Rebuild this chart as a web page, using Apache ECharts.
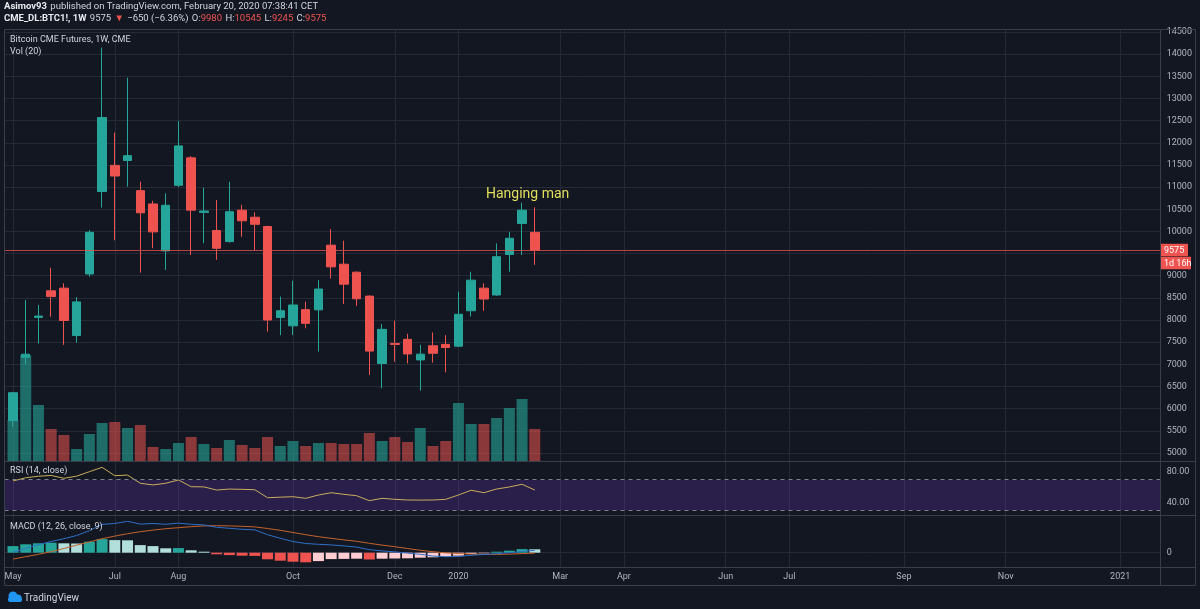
<!DOCTYPE html>
<html>
<head>
<meta charset="utf-8">
<script src="https://cdn.jsdelivr.net/npm/echarts@6.0.0/dist/echarts.min.js"></script>
<style>
html,body{margin:0;padding:0;background:#131722;overflow:hidden;}
#chart{width:1200px;height:609px;}
</style>
</head>
<body>
<div id="chart"></div>
<script>
// ================= DATA =================
const startWeek = '2019-05-06';
const weekSlots = 91;

const opens  = [5730,7160,8060,8660,8720,7650,9040,10900,11490,11600,10920,10620,9560,11040,11660,10430,10020,9770,10480,10320,10110,8060,7870,8235,8230,9690,9260,9080,8540,7020,7470,7565,7100,7420,7450,7410,8210,8720,8565,9480,10180,9980];
const closes = [6360,7230,8090,8530,7990,8410,9980,12570,11250,11710,10420,9990,10590,11930,10480,10460,9620,10445,10240,10160,8000,8210,8340,7926,8700,9200,8810,8480,7300,7790,7450,7235,7230,7250,7380,8130,8900,8475,9430,9845,10480,9575];
const highs  = [6380,8450,8340,9180,8830,8520,10030,14150,12230,13470,11120,10690,10860,12490,11700,10990,10710,11120,10600,10430,10130,8530,8890,8414,8900,10050,9790,9100,8560,7910,7985,7690,7440,7720,7660,8640,9090,8830,9730,9990,10650,10545];
const lows   = [5590,7000,7470,8075,7440,7490,8980,10540,9800,11010,9070,9620,9130,11000,9470,9730,9360,9750,9880,9580,7740,7660,7663,7813,7290,8940,8360,8320,6760,6460,7060,7020,6410,7040,6820,7400,8080,8210,8550,9090,9470,9245];
const volumes = [41000,106000,56000,32000,26000,12000,27000,38000,39000,33000,36000,14000,12000,18000,24000,17000,13000,21000,16000,13000,24000,15000,20000,15000,18000,18000,17000,17000,28000,20000,24000,19000,33000,15000,20000,58000,37000,37000,43000,53000,62000,32000];

const rsi = [68.3,72.5,74.5,75.5,71.8,74.6,80.4,86.1,75.2,76.0,65.3,63.1,65.3,69.6,60.8,60.6,56.5,57.8,57.4,56.9,46.5,47.2,47.8,45.7,50.0,53.0,50.9,49.1,42.6,45.7,44.4,43.5,43.4,43.5,44.4,50.0,56.2,53.0,57.8,60.5,64.0,56.5];

const macdLine   = [20,220,400,560,700,860,1100,1420,1460,1570,1430,1460,1420,1480,1420,1390,1270,1220,1170,1140,900,720,560,460,420,390,340,280,150,90,40,-20,-80,-170,-200,-190,-130,-90,-50,0,60,120];
const signalLine = [-320,-200,-80,50,210,380,540,700,830,950,1050,1130,1200,1250,1300,1340,1350,1340,1320,1290,1210,1120,1010,900,800,720,640,570,470,380,300,210,120,50,-10,-40,-70,-80,-85,-70,-45,-20];
const macdHist   = [330,420,470,500,470,460,550,680,630,620,380,330,220,230,120,50,-80,-120,-150,-160,-330,-400,-450,-480,-420,-320,-310,-300,-340,-300,-290,-280,-250,-230,-200,-150,-60,-30,50,100,180,170];

const tickDates  = ['2019-05-06','2019-07-01','2019-08-05','2019-10-07','2019-12-02','2020-01-06','2020-03-02','2020-04-06','2020-06-01','2020-07-06','2020-09-07','2020-11-02','2021-01-04'];
const tickLabels = ['May','Jul','Aug','Oct','Dec','2020','Mar','Apr','Jun','Jul','Sep','Nov','2021'];

const priceMin = 5000, priceMax = 14500, priceStep = 500;
const rsiTickValues = [40, 80];
const rsiBands = [30, 70];
const macdTickValues = [0];
const lastPrice = 9575;
const countdownText = '1d 16h';
const annotationText = 'Hanging man';

// ================= BUILD =================
const WEEK = 7 * 864e5;
const weekIndex = d => Math.round((Date.parse(d) - Date.parse(startWeek)) / WEEK);
const tickIdx = tickDates.map(weekIndex);
const labelByIdx = {};
tickIdx.forEach((k, j) => { labelByIdx[k] = tickLabels[j]; });

const UP = '#26a69a', DOWN = '#ef5350';
const candleData = opens.map((o, i) => [i, o, closes[i], lows[i], highs[i]]);
const volData = volumes.map((v, i) => ({
  value: [i, v],
  itemStyle: { color: closes[i] >= opens[i] ? 'rgba(38,166,154,0.6)' : 'rgba(239,83,80,0.55)' }
}));
const rsiData = rsi.map((v, i) => [i, v]);
const macdData = macdLine.map((v, i) => [i, v]);
const sigData = signalLine.map((v, i) => [i, v]);
const histData = macdHist.map((v, i) => {
  const prev = i > 0 ? macdHist[i - 1] : (v >= 0 ? -Infinity : Infinity);
  let c;
  if (v >= 0) c = v >= prev ? '#26a69a' : '#b2dfdb';
  else c = v <= prev ? '#ef5350' : '#ffcdd2';
  return { value: [i, v], itemStyle: { color: c } };
});

const FONT = 'Roboto, "Noto Sans", sans-serif';
const GRID_C = '#262a36';
const BORDER_C = '#3a3e4a';
const LABEL_C = '#b2b5be';
const X_MIN = -0.668, X_MAX = 90.18;
const PL = 4.5, PW = 1156.2;

function mkX(gridIndex, extra) {
  return Object.assign({
    type: 'value', gridIndex, min: X_MIN, max: X_MAX,
    axisLine: { show: false },
    axisTick: { show: false, customValues: tickIdx },
    axisLabel: { show: false, customValues: tickIdx },
    splitLine: { show: true, lineStyle: { color: GRID_C, width: 1 } }
  }, extra || {});
}

const option = {
  animation: false,
  backgroundColor: '#131722',
  textStyle: { fontFamily: FONT },
  grid: [
    { left: PL, top: 32, width: PW, height: 421 },   // price
    { left: PL, top: 29, width: PW, height: 432 },   // volume
    { left: PL, top: 461, width: PW, height: 54 },   // rsi
    { left: PL, top: 515, width: PW, height: 52 }    // macd
  ],
  xAxis: [
    mkX(0, { splitLine: { show: false } }),
    mkX(1),
    mkX(2),
    mkX(3, {
      axisLabel: {
        show: true, customValues: tickIdx, color: LABEL_C, fontSize: 9, margin: 5, fontFamily: FONT,
        formatter: v => labelByIdx[Math.round(v)] || ''
      }
    })
  ],
  yAxis: [
    {
      type: 'value', gridIndex: 0, position: 'right', min: priceMin, max: priceMax, interval: priceStep,
      axisLine: { show: false }, axisTick: { show: false },
      axisLabel: { color: LABEL_C, fontSize: 9, margin: 6, fontFamily: FONT, formatter: v => String(v) },
      splitLine: { show: true, lineStyle: { color: GRID_C } }
    },
    {
      type: 'value', gridIndex: 1, min: 0, max: 432000, show: false, splitLine: { show: false }
    },
    {
      type: 'value', gridIndex: 2, position: 'right', min: 23.97, max: 94.33,
      axisLine: { show: false },
      axisTick: { show: false, customValues: rsiTickValues },
      axisLabel: { customValues: rsiTickValues, color: LABEL_C, fontSize: 9, margin: 6, fontFamily: FONT, formatter: v => v.toFixed(2) },
      splitLine: { show: false }
    },
    {
      type: 'value', gridIndex: 3, position: 'right', min: -715, max: 1885,
      axisLine: { show: false },
      axisTick: { show: false, customValues: macdTickValues },
      axisLabel: { customValues: macdTickValues, color: LABEL_C, fontSize: 9, margin: 6, fontFamily: FONT, formatter: v => String(v) },
      splitLine: { show: true, lineStyle: { color: GRID_C } }
    }
  ],
  series: [
    {
      name: 'Volume', type: 'bar', xAxisIndex: 1, yAxisIndex: 1, data: volData, barWidth: 11, silent: true
    },
    {
      name: 'BTC1!', type: 'candlestick', xAxisIndex: 0, yAxisIndex: 0, data: candleData,
      encode: { x: 0, y: [1, 2, 3, 4] }, barWidth: 9,
      itemStyle: { color: UP, color0: DOWN, borderColor: UP, borderColor0: DOWN, borderWidth: 1 },
      markLine: {
        silent: true, symbol: ['none', 'none'], label: { show: false },
        lineStyle: { color: '#ef5350', width: 1, type: 'solid', opacity: 0.75 },
        data: [{ yAxis: lastPrice }]
      }
    },
    {
      name: 'RSI', type: 'line', xAxisIndex: 2, yAxisIndex: 2, data: rsiData, showSymbol: false, symbol: 'none',
      lineStyle: { color: '#c9ad5b', width: 1 },
      markArea: {
        silent: true, itemStyle: { color: 'rgba(110,50,200,0.25)' },
        data: [[{ yAxis: rsiBands[0] }, { yAxis: rsiBands[1] }]]
      },
      markLine: {
        silent: true, symbol: ['none', 'none'], label: { show: false },
        lineStyle: { color: '#7d7f8c', width: 1, type: [4, 4] },
        data: rsiBands.map(b => ({ yAxis: b }))
      }
    },
    {
      name: 'Histogram', type: 'bar', xAxisIndex: 3, yAxisIndex: 3, data: histData, barWidth: 11, silent: true
    },
    {
      name: 'Signal', type: 'line', xAxisIndex: 3, yAxisIndex: 3, data: sigData, showSymbol: false, symbol: 'none',
      lineStyle: { color: '#c4632c', width: 1 }
    },
    {
      name: 'MACD', type: 'line', xAxisIndex: 3, yAxisIndex: 3, data: macdData, showSymbol: false, symbol: 'none',
      lineStyle: { color: '#2f6fc8', width: 1 }
    }
  ]
};

const chart = echarts.init(document.getElementById('chart'), null, { renderer: 'canvas' });
chart.setOption(option);

// ================= OVERLAY (text, frame, price label) =================
const py = chart.convertToPixel({ yAxisIndex: 0 }, lastPrice);
const L = (x1, y1, x2, y2) => ({ type: 'line', z: 100, silent: true, shape: { x1, y1, x2, y2 }, style: { stroke: BORDER_C, lineWidth: 1 } });
const T = (x, y, text, style, z) => ({ type: 'text', z: z || 110, silent: true, x, y, style: Object.assign({ text, fill: '#d1d4dc', font: '9px ' + FONT, verticalAlign: 'middle' }, style || {}) });

const graphics = [
  L(4.5, 29.5, 1195.5, 29.5),
  L(4.5, 461.5, 1195.5, 461.5),
  L(4.5, 515.5, 1195.5, 515.5),
  L(4.5, 567.5, 1195.5, 567.5),
  L(4.5, 585.5, 1195.5, 585.5),
  L(4.5, 29.5, 4.5, 585.5),
  L(1160.5, 29.5, 1160.5, 585.5),
  L(1195.5, 29.5, 1195.5, 585.5),
  // header
  {
    type: 'text', z: 110, silent: true, x: 4, y: 7,
    style: {
      text: '{b|Asimov93} {n|published on TradingView.com, February 20, 2020 07:38:41 CET}',
      verticalAlign: 'middle',
      rich: {
        b: { fill: '#e8eaf0', font: 'bold 9.5px ' + FONT },
        n: { fill: '#d1d4dc', font: '9.5px ' + FONT }
      }
    }
  },
  {
    type: 'text', z: 110, silent: true, x: 4, y: 19,
    style: {
      text: '{b|CME_DL:BTC1!, 1W} {n|9575} {r|▼} {n|\u2212650 (\u22126.36%)} {n|O:}{r|9980} {n|H:}{r|10545} {n|L:}{r|9245} {n|C:}{r|9575}',
      verticalAlign: 'middle',
      rich: {
        b: { fill: '#e8eaf0', font: 'bold 9.5px ' + FONT },
        n: { fill: '#d1d4dc', font: '9.5px ' + FONT },
        r: { fill: '#ef5350', font: '9.5px ' + FONT }
      }
    }
  },
  // pane titles
  T(10, 40, 'Bitcoin CME Futures, 1W, CME'),
  T(10, 52, 'Vol (20)'),
  T(10, 471, 'RSI (14, close)'),
  T(10, 527, 'MACD (12, 26, close, 9)'),
  // annotation
  T(486, 194, annotationText, { fill: '#e2df5c', font: '14px ' + FONT }),
  // price label boxes
  { type: 'rect', z: 120, silent: true, shape: { x: 1161, y: py - 6.5, width: 27, height: 12.5 }, style: { fill: '#ef5350' } },
  T(1164, py, String(lastPrice), { fill: '#ffffff', font: '9px ' + FONT }, 130),
  { type: 'rect', z: 120, silent: true, shape: { x: 1161, y: py + 6.5, width: 30, height: 12.5 }, style: { fill: '#ef5350' } },
  T(1164, py + 13, countdownText, { fill: '#ffffff', font: '9px ' + FONT }, 130),
  // TradingView logo
  { type: 'circle', z: 110, silent: true, shape: { cx: 13, cy: 596, r: 4.5 }, style: { fill: '#2196f3' } },
  { type: 'circle', z: 110, silent: true, shape: { cx: 18, cy: 598, r: 3.5 }, style: { fill: '#2196f3' } },
  { type: 'rect', z: 110, silent: true, shape: { x: 8, y: 597, width: 14, height: 5, r: 2 }, style: { fill: '#2196f3' } },
  T(24, 598, 'TradingView', { fill: '#d1d4dc', font: '10px ' + FONT })
];
chart.setOption({ graphic: graphics });
</script>
</body>
</html>
